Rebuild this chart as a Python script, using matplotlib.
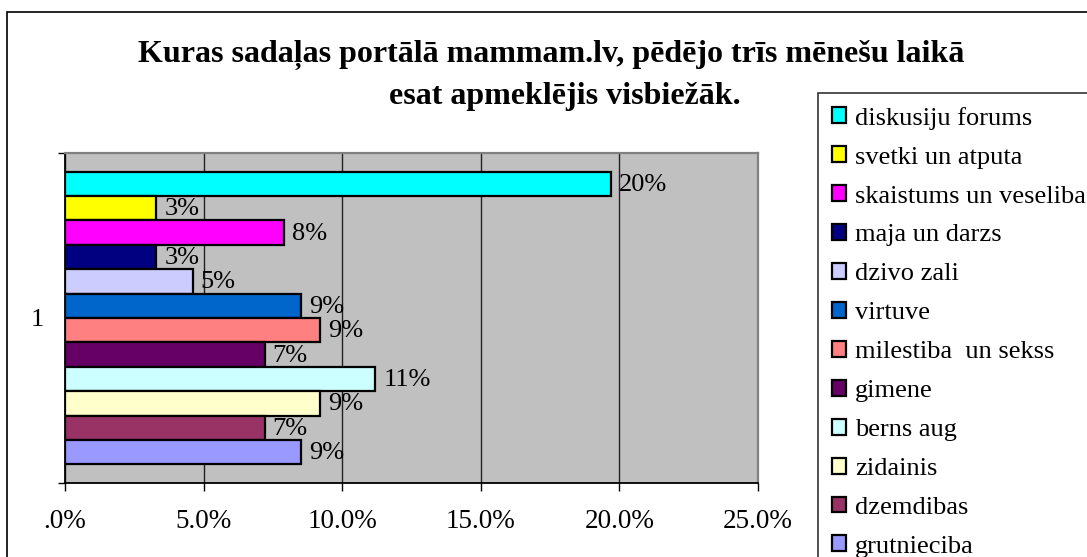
import matplotlib
matplotlib.use("Agg")
import matplotlib.pyplot as plt
from matplotlib.patches import Patch, Rectangle
from matplotlib.ticker import FixedLocator, FuncFormatter

plt.rcParams['font.family'] = ['Liberation Serif', 'DejaVu Serif']

categories = ["diskusiju forums", "svetki un atputa", "skaistums un veseliba",
              "maja un darzs", "dzivo zali", "virtuve", "milestiba  un sekss",
              "gimene", "berns aug", "zidainis", "dzemdibas", "grutnieciba"]
values = [0.197, 0.033, 0.079, 0.033, 0.046, 0.0853, 0.092, 0.072, 0.112, 0.092, 0.072, 0.0853]
colors = ["#00FFFF", "#FFFF00", "#FF00FF", "#000080", "#CCCCFF", "#0066CC",
          "#FF8080", "#660066", "#CCFFFF", "#FFFFCC", "#993366", "#9999FF"]
xticks = [0.0, 0.05, 0.10, 0.15, 0.20, 0.25]
xticklabels = [".0%", "5.0%", "10.0%", "15.0%", "20.0%", "25.0%"]
title_line1 = "Kuras sadaļas portālā mammam.lv, pēdējo trīs mēnešu laikā"
title_line2 = "esat apmeklējis visbiežāk."

W, H = 1087, 557
fig = plt.figure(figsize=(W / 100, H / 100), dpi=100)
fig.patch.set_facecolor("white")

# outer chart border
fig.patches.append(Rectangle((7 / W, -0.5), 2.0, 1.5 - 12 / H, transform=fig.transFigure,
                             fill=False, edgecolor="black", linewidth=1.2))

left, right, top, bottom = 65 / W, 758 / W, 1 - 153 / H, 1 - 483 / H
ax = fig.add_axes([left, bottom, right - left, top - bottom])
ax.set_facecolor("#C0C0C0")

n = len(values)
h = 0.0739
for i, (cat, v, c) in enumerate(zip(categories, values, colors)):
    y = 1 + (n / 2 - 0.5 - i) * h
    ax.barh(y, v, height=h, color=c, edgecolor="black", linewidth=1.6, zorder=3, label=cat)
    ax.annotate(f"{round(v * 100):d}%", xy=(v, y), xytext=(8, -1), textcoords="offset pixels",
                ha="left", va="center", fontsize=19, zorder=4)

ax.set_xlim(0, 0.25)
ax.set_ylim(0.5, 1.5)
ax.set_xticks(xticks)
ax.set_xticklabels(xticklabels, fontsize=19.5)
ax.tick_params(axis="x", direction="out", length=6, width=1, pad=13, color="black")
ax.grid(axis="x", color="#202020", linewidth=1.0, zorder=1)
ax.set_axisbelow(True)

ax.yaxis.set_major_locator(FixedLocator([0.5, 1.5]))
ax.yaxis.set_major_formatter(FuncFormatter(lambda v, p: ""))
ax.yaxis.set_minor_locator(FixedLocator([1.0]))
ax.yaxis.set_minor_formatter(FuncFormatter(lambda v, p: "1"))
ax.tick_params(axis="y", which="major", direction="out", length=5, width=1)
ax.tick_params(axis="y", which="minor", length=0, pad=15, labelsize=19)

for s in ["left", "bottom"]:
    ax.spines[s].set_color("black")
    ax.spines[s].set_linewidth(1.3)
for s in ["top", "right"]:
    ax.spines[s].set_color("#808080")
    ax.spines[s].set_linewidth(1.6)

fig.text(551 / W, 1 - 62 / H, title_line1, ha="center", va="baseline",
         fontsize=23, fontweight="bold")
fig.text(565 / W, 1 - 104 / H, title_line2, ha="center", va="baseline",
         fontsize=23, fontweight="bold")

handles = [Patch(facecolor=c, edgecolor="black", linewidth=1.6) for c in colors]
leg = fig.legend(handles, categories, loc="upper left", bbox_to_anchor=(818 / W, 1 - 93 / H),
                 bbox_transform=fig.transFigure, fontsize=19, frameon=True, fancybox=False,
                 borderaxespad=0, borderpad=0.52, handlelength=0.55, handleheight=0.55,
                 handletextpad=0.33, labelspacing=0.63)
leg.get_frame().set_edgecolor("black")
leg.get_frame().set_linewidth(1.2)

fig.savefig("out.png", dpi=100)
